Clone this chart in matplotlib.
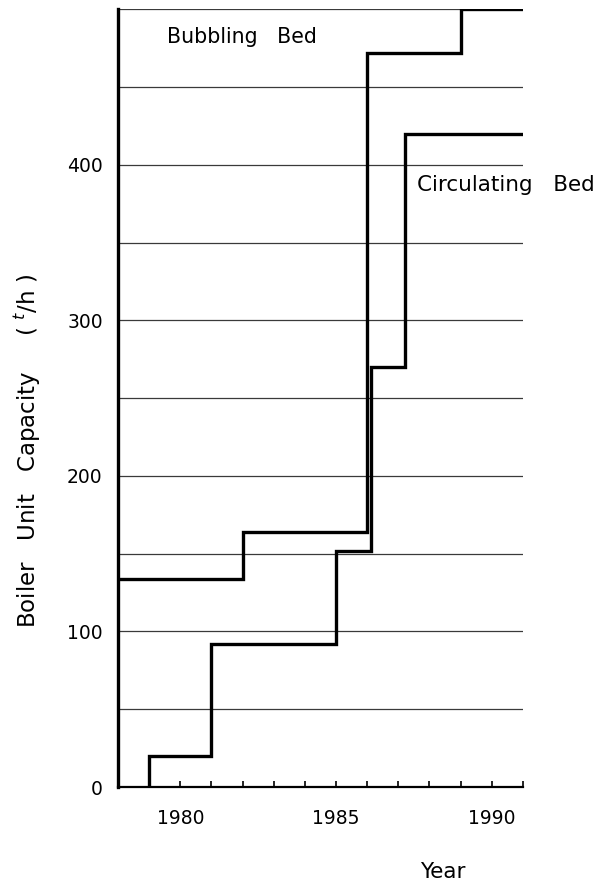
import matplotlib
matplotlib.use("Agg")
import matplotlib.pyplot as plt
from matplotlib.ticker import FixedLocator, NullFormatter

# Unit capacity of fluidized-bed boilers by year (t/h)
bubbling_years = [1978, 1982, 1986, 1989, 1991]
bubbling_capacity = [134, 164, 472, 500, 500]

circulating_years = [1979, 1979, 1981, 1985, 1986.13, 1987.2, 1991]
circulating_capacity = [0, 20, 92, 152, 270, 420, 420]

ytick_values = [0, 100, 200, 300, 400]
grid_values = [50, 100, 150, 200, 250, 300, 350, 400, 450, 500]
xtick_labels = [1980, 1985, 1990]
year_ticks = list(range(1979, 1992))

fig = plt.figure(figsize=(6.07, 8.90), dpi=100)
ax = fig.add_axes([0.1944, 0.1157, 0.667, 0.874])

ax.set_xlim(1978, 1991)
ax.set_ylim(0, 500)

# horizontal reference lines
for g in grid_values:
    ax.axhline(g, color="#3a3a3a", lw=0.9, zorder=1)

ax.step(bubbling_years, bubbling_capacity, where="post",
        color="black", lw=2.4, zorder=3, solid_joinstyle="miter")
ax.step(circulating_years, circulating_capacity, where="post",
        color="black", lw=2.4, zorder=3, solid_joinstyle="miter")

# spines
ax.spines["right"].set_visible(False)
ax.spines["top"].set_visible(False)
ax.spines["left"].set_linewidth(2.4)
ax.spines["bottom"].set_linewidth(1.6)

# ticks
ax.xaxis.set_major_locator(FixedLocator(xtick_labels))
ax.xaxis.set_minor_locator(FixedLocator(year_ticks))
ax.xaxis.set_minor_formatter(NullFormatter())
ax.tick_params(axis="x", which="both", direction="in", length=4.5,
               width=1.2, pad=16, labelsize=13.5)
ax.set_yticks(ytick_values)
ax.tick_params(axis="y", length=0, pad=11, labelsize=13.5)

ax.text(1979.58, 482, "Bubbling   Bed", fontsize=14.8, va="center", ha="left")
ax.text(1987.6, 387, "Circulating   Bed", fontsize=15.5, va="center",
        ha="left", clip_on=False)

fig.text(0.044, 0.493, "Boiler   Unit   Capacity     ( $^{t}$/h )",
         rotation=90, fontsize=16.5, ha="center", va="center")
fig.text(0.73, 0.02, "Year", fontsize=15.5, ha="center", va="center")

fig.savefig("out.png", dpi=100)
